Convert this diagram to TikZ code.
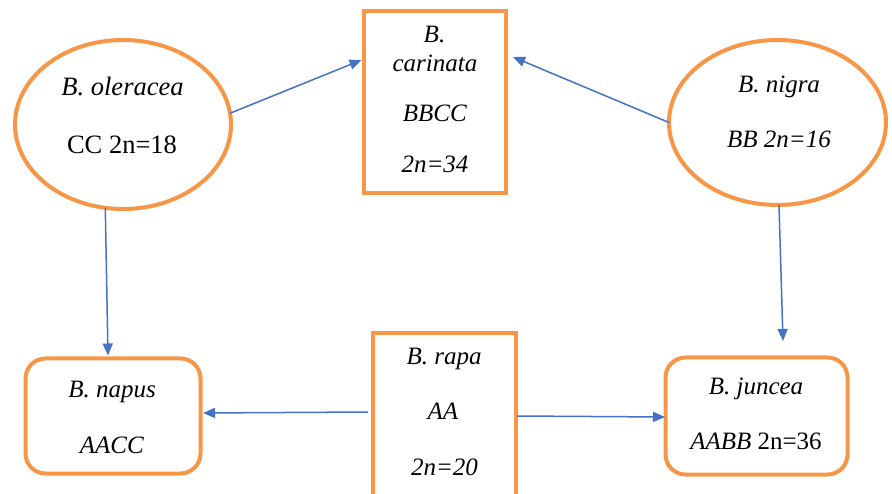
\documentclass[tikz,border=0pt]{standalone}
\usepackage{fontspec}
\setmainfont{Liberation Serif}
\usetikzlibrary{arrows.meta,shapes.geometric}
\definecolor{shapeorange}{RGB}{247,150,70}
\definecolor{linkblue}{RGB}{68,114,196}
\tikzset{
  frame/.style={draw=shapeorange, line width=4pt, fill=white, inner sep=0pt, outer sep=0pt},
  oval/.style={frame, ellipse},
  box/.style={frame, rectangle},
  rbox/.style={frame, rectangle, rounded corners=20pt},
  txt/.style={anchor=base, inner sep=0pt, font=\fontsize{25}{30}\selectfont},
  bigtxt/.style={txt, font=\fontsize{26.5}{31}\selectfont},
  link/.style={draw=linkblue, line width=1.5pt, -{Triangle[length=12pt,width=10pt]}},
}
\begin{document}
\begin{tikzpicture}[x=1pt, y=-1pt]
  \useasboundingbox (0,0) rectangle (892,494);
  \clip (0,0) rectangle (892,494);
  \fill[white] (0,0) rectangle (892,494);

  % parent species
  \node[oval, minimum width=216pt, minimum height=169pt] (olr) at (123,124.5) {};
  \node[oval, minimum width=217pt, minimum height=165pt] (nig) at (777.5,122.5) {};
  \node[box, minimum width=143pt, minimum height=186.5pt] (rapa) at (444,426.75) {};

  % hybrid species
  \node[box, minimum width=142pt, minimum height=182pt] (car) at (434.5,102.5) {};
  \node[rbox, minimum width=175pt, minimum height=115pt] (nap) at (113,416) {};
  \node[rbox, minimum width=182pt, minimum height=117pt] (jun) at (756.5,416) {};

  % labels
  \node[bigtxt] (olr1) at (122.5,95.7) {\textit{B. oleracea}};
  \node[bigtxt] (olr2) at (122,154) {CC 2n=18};

  \node[txt] (car1) at (434.5,43) {\textit{B.}};
  \node[txt] (car2) at (435,72) {\textit{carinata}};
  \node[txt] (car3) at (435,122) {\textit{BBCC}};
  \node[txt] (car4) at (435,173) {\textit{2n=34}};

  \node[txt] (nig1) at (779,93) {\textit{B. nigra}};
  \node[txt] (nig2) at (779,148) {\textit{BB 2n=16}};

  \node[txt] (nap1) at (112,397) {\textit{B. napus}};
  \node[txt] (nap2) at (112,453) {\textit{AACC}};

  \node[txt] (rapa1) at (444,365) {\textit{B. rapa}};
  \node[txt] (rapa2) at (443,420) {\textit{AA}};
  \node[txt] (rapa3) at (444.5,475) {\textit{2n=20}};

  \node[txt] (jun1) at (756,395) {\textit{B. juncea}};
  \node[txt] (jun2) at (756,449) {\textit{AABB} 2n=36};

  % crosses
  \draw[link] (olr.6) -- ([xshift=-2pt,yshift=42.5pt]car.west);
  \draw[link] (nig.west) -- ([xshift=7.5pt,yshift=45.5pt]car.east);
  \draw[link] (olr.258) -- ([xshift=-5pt,yshift=3pt]nap.north);
  \draw[link] ([xshift=1.5pt]nig.south) -- ([xshift=26.5pt,yshift=16.5pt]jun.north);
  \draw[link] ([xshift=-4.5pt,yshift=-78.5pt]rapa.north west) -- ([xshift=2.5pt,yshift=3pt]nap.east);
  \draw[link] ([xshift=1.5pt,yshift=-82.5pt]rapa.north east) -- ([xshift=-0.5pt,yshift=-1pt]jun.west);
\end{tikzpicture}
\end{document}
